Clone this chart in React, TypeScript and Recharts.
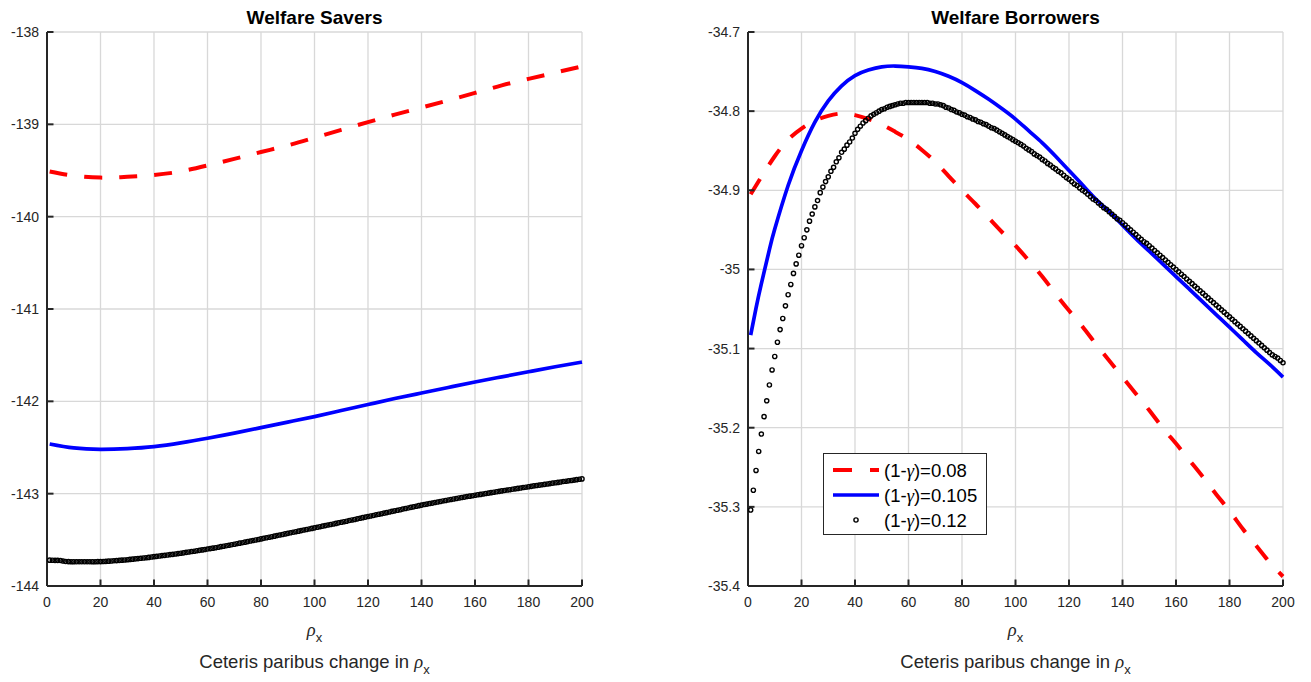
import React from 'react';
import { LineChart, Line, XAxis, YAxis, CartesianGrid, Legend } from 'recharts';

const FONT = '"Liberation Sans", Arial, Helvetica, sans-serif';
const SERIF = '"Liberation Serif", "Times New Roman", serif';
const AX = '#262626';
const GRID = '#d8d8d8';

// ---------- ticks ----------
const xTicks = [0, 20, 40, 60, 80, 100, 120, 140, 160, 180, 200];
const xTickLabels = ['0', '20', '40', '60', '80', '100', '120', '140', '160', '180', '200'];
const leftYTicks = [-144, -143, -142, -141, -140, -139, -138];
const leftYTickLabels = ['-144', '-143', '-142', '-141', '-140', '-139', '-138'];
const rightYTicks = [-35.4, -35.3, -35.2, -35.1, -35.0, -34.9, -34.8, -34.7];
const rightYTickLabels = ['-35.4', '-35.3', '-35.2', '-35.1', '-35', '-34.9', '-34.8', '-34.7'];

const titles = ['Welfare Savers', 'Welfare Borrowers'];
const seriesNames = ['0.08', '0.105', '0.12'];

// ---------- left panel (Welfare Savers) ----------
const leftLineX = [1, 10, 20, 30, 40, 50, 60, 70, 80, 90, 100, 110, 120, 130, 140, 150, 160, 170, 180, 190, 200];
const leftRed = [-139.51, -139.556, -139.577, -139.568, -139.548, -139.51, -139.445, -139.374, -139.3, -139.228, -139.145, -139.06, -138.976, -138.895, -138.818, -138.74, -138.66, -138.578, -138.508, -138.44, -138.372];
const leftBlue = [-142.462, -142.505, -142.52, -142.512, -142.49, -142.45, -142.4, -142.345, -142.285, -142.225, -142.165, -142.1, -142.035, -141.97, -141.91, -141.85, -141.79, -141.735, -141.68, -141.625, -141.575];
const leftBlack = [
  -143.72, -143.721, -143.722, -143.722, -143.724, -143.73, -143.735, -143.736, -143.737, -143.737,
  -143.738, -143.738, -143.738, -143.738, -143.738, -143.738, -143.737, -143.737, -143.736, -143.736,
  -143.734, -143.733, -143.731, -143.729, -143.727, -143.725, -143.722, -143.72, -143.718, -143.715,
  -143.712, -143.709, -143.706, -143.703, -143.7, -143.697, -143.694, -143.69, -143.686, -143.682,
  -143.679, -143.675, -143.671, -143.668, -143.664, -143.66, -143.657, -143.653, -143.649, -143.645,
  -143.641, -143.636, -143.632, -143.627, -143.623, -143.618, -143.614, -143.609, -143.605, -143.6,
  -143.595, -143.59, -143.585, -143.58, -143.574, -143.569, -143.564, -143.559, -143.553, -143.548,
  -143.542, -143.536, -143.531, -143.525, -143.519, -143.513, -143.508, -143.502, -143.496, -143.49,
  -143.484, -143.478, -143.472, -143.466, -143.46, -143.454, -143.448, -143.442, -143.436, -143.43,
  -143.424, -143.418, -143.412, -143.406, -143.4, -143.394, -143.388, -143.382, -143.376, -143.37,
  -143.364, -143.358, -143.352, -143.346, -143.34, -143.334, -143.328, -143.322, -143.316, -143.31,
  -143.304, -143.298, -143.291, -143.285, -143.279, -143.273, -143.267, -143.26, -143.254, -143.248,
  -143.242, -143.236, -143.229, -143.223, -143.217, -143.211, -143.205, -143.198, -143.192, -143.186,
  -143.18, -143.174, -143.167, -143.161, -143.155, -143.149, -143.143, -143.136, -143.13, -143.124,
  -143.118, -143.113, -143.107, -143.102, -143.096, -143.091, -143.085, -143.079, -143.074, -143.068,
  -143.063, -143.058, -143.053, -143.047, -143.042, -143.037, -143.032, -143.027, -143.022, -143.017,
  -143.012, -143.008, -143.003, -142.998, -142.994, -142.989, -142.984, -142.979, -142.975, -142.97,
  -142.966, -142.961, -142.957, -142.952, -142.948, -142.943, -142.939, -142.934, -142.93, -142.925,
  -142.921, -142.916, -142.912, -142.908, -142.904, -142.899, -142.895, -142.891, -142.886, -142.882,
  -142.878, -142.874, -142.869, -142.865, -142.861, -142.857, -142.853, -142.848, -142.844, -142.84,
];

// ---------- right panel (Welfare Borrowers) ----------
const rightRedX = [1, 5, 10, 15, 20, 25, 30, 35, 40, 45, 50, 55, 60, 65, 70, 75, 80, 85, 90, 95, 100, 105, 110, 115, 120, 125, 130, 135, 140, 145, 150, 155, 160, 165, 170, 175, 180, 185, 190, 195, 200];
const rightRed = [-34.905, -34.883, -34.857, -34.836, -34.822, -34.812, -34.806, -34.803, -34.805, -34.81, -34.817, -34.826, -34.836, -34.849, -34.864, -34.882, -34.9, -34.917, -34.935, -34.953, -34.97, -34.989, -35.009, -35.031, -35.052, -35.072, -35.094, -35.115, -35.136, -35.157, -35.178, -35.2, -35.22, -35.241, -35.262, -35.284, -35.305, -35.328, -35.349, -35.37, -35.388];
const rightBlueX = [1, 3, 5, 8, 10, 15, 20, 25, 30, 35, 40, 45, 50, 55, 60, 65, 70, 75, 80, 85, 90, 95, 100, 105, 110, 115, 120, 125, 130, 135, 140, 145, 150, 155, 160, 165, 170, 175, 180, 185, 190, 195, 200];
const rightBlue = [-35.083, -35.049, -35.018, -34.975, -34.949, -34.894, -34.85, -34.814, -34.787, -34.768, -34.755, -34.748, -34.744, -34.743, -34.744, -34.746, -34.75, -34.756, -34.764, -34.774, -34.785, -34.797, -34.81, -34.825, -34.84, -34.857, -34.875, -34.893, -34.911, -34.927, -34.944, -34.961, -34.977, -34.993, -35.009, -35.025, -35.041, -35.057, -35.073, -35.089, -35.105, -35.12, -35.136];
const rightBlack = [
  -35.304, -35.279, -35.254, -35.23, -35.208, -35.186, -35.166, -35.146, -35.127, -35.11,
  -35.092, -35.076, -35.062, -35.046, -35.032, -35.019, -35.005, -34.993, -34.982, -34.97,
  -34.96, -34.95, -34.939, -34.93, -34.921, -34.913, -34.903, -34.896, -34.889, -34.883,
  -34.876, -34.871, -34.864, -34.859, -34.852, -34.848, -34.843, -34.839, -34.834, -34.828,
  -34.823, -34.819, -34.815, -34.812, -34.809, -34.806, -34.804, -34.802, -34.8, -34.798,
  -34.797, -34.795, -34.794, -34.793, -34.792, -34.791, -34.79, -34.79, -34.789, -34.789,
  -34.789, -34.789, -34.789, -34.789, -34.789, -34.789, -34.789, -34.79, -34.79, -34.791,
  -34.791, -34.792, -34.793, -34.795, -34.796, -34.798, -34.799, -34.801, -34.802, -34.804,
  -34.805, -34.807, -34.808, -34.81, -34.811, -34.813, -34.814, -34.816, -34.817, -34.819,
  -34.821, -34.822, -34.824, -34.826, -34.828, -34.83, -34.832, -34.834, -34.836, -34.838,
  -34.84, -34.842, -34.844, -34.847, -34.849, -34.851, -34.854, -34.856, -34.858, -34.861,
  -34.863, -34.866, -34.868, -34.871, -34.873, -34.876, -34.878, -34.881, -34.884, -34.886,
  -34.889, -34.892, -34.894, -34.897, -34.9, -34.902, -34.905, -34.908, -34.911, -34.913,
  -34.916, -34.919, -34.922, -34.924, -34.927, -34.93, -34.933, -34.936, -34.938, -34.941,
  -34.944, -34.947, -34.95, -34.953, -34.956, -34.959, -34.962, -34.965, -34.967, -34.97,
  -34.973, -34.976, -34.979, -34.982, -34.985, -34.988, -34.991, -34.994, -34.997, -35.0,
  -35.003, -35.006, -35.009, -35.012, -35.015, -35.018, -35.021, -35.024, -35.027, -35.03,
  -35.033, -35.036, -35.039, -35.042, -35.045, -35.048, -35.051, -35.054, -35.057, -35.06,
  -35.063, -35.066, -35.069, -35.072, -35.075, -35.078, -35.081, -35.084, -35.087, -35.09,
  -35.093, -35.096, -35.099, -35.102, -35.105, -35.108, -35.11, -35.112, -35.115, -35.118,
];

const pts = (xs: number[], ys: number[]) => xs.map((x, i) => ({ x, y: ys[i] }));
const dense = (ys: number[]) => ys.map((y, i) => ({ x: i + 1, y }));

// ---------- layout ----------
const W = 1311;
const H = 682;
const PLOT_TOP = 32;
const PLOT_BOTTOM = 586;
const X_AXIS_H = 30;
const TICK_IN = 6.5; // inward tick length
const LABEL_GAP = 8; // gap between axis line and tick label

const makeYTick = (labels: string[]) => (props: any) => {
  const { x, y, index } = props;
  return (
    <text x={x} y={y} dy={5} textAnchor="end" fontSize={14} fontFamily={FONT} fill={AX}>
      {labels[index]}
    </text>
  );
};

const XTick = (props: any) => {
  const { x, y, index } = props;
  return (
    <text x={x} y={y} dy={13} textAnchor="middle" fontSize={14} fontFamily={FONT} fill={AX}>
      {xTickLabels[index]}
    </text>
  );
};

const XLabel = (props: any) => {
  const vb = props.viewBox || {};
  const cx = vb.x + vb.width / 2;
  const top = vb.y;
  return (
    <g>
      <text x={cx} y={top + 50} textAnchor="middle" fontSize={18.5} fontFamily={FONT} fill={AX}>
        <tspan fontFamily={SERIF} fontStyle="italic">ρ</tspan>
        <tspan fontSize={13} dy={6}>x</tspan>
      </text>
      <text x={cx} y={top + 82} textAnchor="middle" fontSize={18.5} fontFamily={FONT} fill={AX}>
        <tspan>Ceteris paribus change in </tspan>
        <tspan fontFamily={SERIF} fontStyle="italic">ρ</tspan>
        <tspan fontSize={13} dy={6}>x</tspan>
      </text>
    </g>
  );
};

const LegendBox = () => {
  const rows = [17, 42, 67];
  return (
    <svg width={164} height={82} style={{ display: 'block' }}>
      <rect x={0.5} y={0.5} width={163} height={81} fill="#ffffff" stroke={AX} strokeWidth={1} />
      <line x1={10} x2={56} y1={rows[0]} y2={rows[0]} stroke="#ff0000" strokeWidth={4} strokeDasharray="19 18" />
      <line x1={10} x2={56} y1={rows[1]} y2={rows[1]} stroke="#0000ff" strokeWidth={3.7} />
      <circle cx={33} cy={rows[2]} r={2.1} fill="none" stroke="#000" strokeWidth={1.4} />
      {seriesNames.map((n, i) => (
        <text key={n} x={61} y={rows[i] + 6.5} fontSize={18.5} fontFamily={FONT} fill="#000">
          <tspan>(1-</tspan>
          <tspan fontFamily={SERIF} fontStyle="italic">γ</tspan>
          <tspan>)={n}</tspan>
        </text>
      ))}
    </svg>
  );
};

type PanelProps = {
  left: number;
  width: number;
  plotLeft: number;
  plotRight: number;
  yTicks: number[];
  yLabels: string[];
  red: { x: number; y: number }[];
  blue: { x: number; y: number }[];
  black: { x: number; y: number }[];
  legend?: boolean;
};

const Panel = ({ left, width, plotLeft, plotRight, yTicks, yLabels, red, blue, black, legend }: PanelProps) => {
  const yAxisW = 40;
  return (
    <div style={{ position: 'absolute', left, top: 0, width, height: H }}>
      <LineChart
        width={width}
        height={H}
        margin={{
          top: PLOT_TOP,
          right: width - (plotRight - left),
          bottom: H - PLOT_BOTTOM - X_AXIS_H,
          left: plotLeft - left - yAxisW,
        }}
      >
        <CartesianGrid stroke={GRID} strokeWidth={1.3} />
        <XAxis
          dataKey="x"
          type="number"
          domain={[0, 200]}
          ticks={xTicks}
          interval={0}
          height={X_AXIS_H}
          tickSize={-TICK_IN}
          tickMargin={LABEL_GAP + TICK_IN}
          tickLine={{ stroke: AX, strokeWidth: 2 }}
          axisLine={{ stroke: AX, strokeWidth: 2 }}
          tick={XTick}
          label={{ content: XLabel, position: 'bottom' } as any}
        />
        <YAxis
          dataKey="y"
          type="number"
          domain={[yTicks[0], yTicks[yTicks.length - 1]]}
          ticks={yTicks}
          interval={0}
          width={yAxisW}
          tickSize={-TICK_IN}
          tickMargin={LABEL_GAP + TICK_IN}
          tickLine={{ stroke: AX, strokeWidth: 2 }}
          axisLine={{ stroke: AX, strokeWidth: 2 }}
          tick={makeYTick(yLabels)}
        />
        <Line
          data={red}
          dataKey="y"
          type="natural"
          stroke="#ff0000"
          strokeWidth={4}
          strokeDasharray="18 17"
          dot={false}
          activeDot={false}
          isAnimationActive={false}
          name="red"
        />
        <Line
          data={blue}
          dataKey="y"
          type="natural"
          stroke="#0000ff"
          strokeWidth={3.7}
          dot={false}
          activeDot={false}
          isAnimationActive={false}
          name="blue"
        />
        <Line
          data={black}
          dataKey="y"
          type="linear"
          stroke="none"
          dot={{ r: 2.1, fill: 'none', stroke: '#000', strokeWidth: 1.4 }}
          activeDot={false}
          isAnimationActive={false}
          name="black"
        />
        {legend && (
          <Legend
            layout="vertical"
            align="center"
            verticalAlign="middle"
            content={() => <LegendBox />}
            wrapperStyle={{ left: 822.5 - left, top: 453.3, width: 164, height: 82 }}
          />
        )}
      </LineChart>
    </div>
  );
};

export default function App() {
  const leftPlot = { l: 47, r: 582 };
  const rightPlot = { l: 748, r: 1283 };
  return (
    <div style={{ position: 'absolute', left: 0, top: 0, width: W, height: H, background: '#ffffff' }}>
      <Panel
        left={0}
        width={655}
        plotLeft={leftPlot.l}
        plotRight={leftPlot.r}
        yTicks={leftYTicks}
        yLabels={leftYTickLabels}
        red={pts(leftLineX, leftRed)}
        blue={pts(leftLineX, leftBlue)}
        black={dense(leftBlack)}
      />
      <Panel
        left={700}
        width={611}
        plotLeft={rightPlot.l}
        plotRight={rightPlot.r}
        yTicks={rightYTicks}
        yLabels={rightYTickLabels}
        red={pts(rightRedX, rightRed)}
        blue={pts(rightBlueX, rightBlue)}
        black={dense(rightBlack)}
        legend
      />
      <svg width={W} height={40} style={{ position: 'absolute', left: 0, top: 0, pointerEvents: 'none' }}>
        <text x={(leftPlot.l + leftPlot.r) / 2} y={24} textAnchor="middle" fontSize={19} fontWeight="bold" fontFamily={FONT} fill="#000">
          {titles[0]}
        </text>
        <text x={(rightPlot.l + rightPlot.r) / 2} y={24} textAnchor="middle" fontSize={19} fontWeight="bold" fontFamily={FONT} fill="#000">
          {titles[1]}
        </text>
      </svg>
    </div>
  );
}
